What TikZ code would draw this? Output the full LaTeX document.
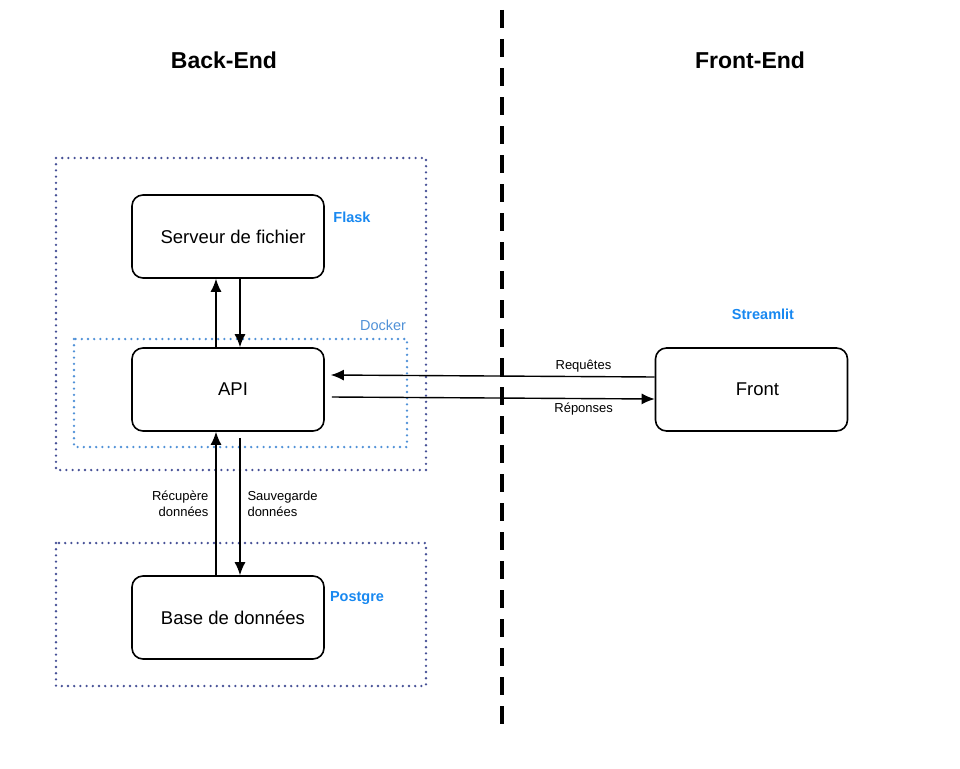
\documentclass[tikz,border=0pt]{standalone}
\usepackage{fontspec}
\setmainfont{Liberation Sans}
\usetikzlibrary{arrows.meta}

\definecolor{flaskblue}{RGB}{24,136,240}
\definecolor{dockblue}{RGB}{80,145,215}
\definecolor{navydot}{RGB}{70,80,150}

\begin{document}
\begin{tikzpicture}[x=1pt,y=-1pt,
    box/.style={draw, line width=1.6pt, rounded corners=11pt, minimum width=192pt, minimum height=83pt, font=\fontsize{18.5}{22}\selectfont},
    outerdots/.style={navydot, line width=2.6pt, line cap=round, dash pattern=on 0pt off 6.2pt},
    dockdots/.style={dockblue, line width=2.6pt, line cap=round, dash pattern=on 0pt off 6.2pt},
    arr/.style={line width=1.4pt, -{Latex[length=13pt,width=11pt]}},
    tag/.style={flaskblue, font=\bfseries\fontsize{14.5}{17}\selectfont},
    small/.style={font=\fontsize{13}{15.5}\selectfont}]
    \useasboundingbox (0,0) rectangle (960,768);
    % containers
    \draw [outerdots] (56,158) rectangle (426,470);
    \draw [dockdots] (74,339) rectangle (407,447);
    \draw [outerdots] (56,543) rectangle (426,686);
    % separation back / front
    \draw [line width=3.8pt, dash pattern=on 18pt off 11pt] (502,10) -- (502,724);
    \node (back) at (224,60) {\bfseries\fontsize{23}{27}\selectfont Back-End};
    \node (frontend) at (750,60) {\bfseries\fontsize{23}{27}\selectfont Front-End};
    % boxes
    \node [box] (serveur) at (228,236.5) {\hspace{10pt}Serveur de fichier};
    \node [box] (api) at (228,389.5) {\hspace{10pt}API};
    \node [box] (base) at (228,617.5) {\hspace{10pt}Base de données};
    \node [box] (front) at (751.5,389.5) {\hspace{12pt}Front};
    % tags
    \node [tag] (flask) at (352,217) {Flask};
    \node [tag] (streamlit) at (763,314) {Streamlit};
    \node [tag] (postgre) at (357,598) {Postgre};
    \node [dockblue, font=\fontsize{14.5}{17}\selectfont] (docker) at (383,325) {Docker};
    % links
    \draw [arr] ([xshift=-12pt]api.north) -- ([xshift=-12pt]serveur.south);
    \draw [arr] ([xshift=12pt]serveur.south) -- ([xshift=12pt]api.north);
    \draw [arr] ([xshift=-12pt]base.north) -- ([xshift=-12pt]api.south);
    \draw [arr] ([xshift=12pt,yshift=-6pt]api.south) -- ([xshift=12pt]base.north);
    \draw [arr] ([yshift=12.5pt]front.west) -- ([xshift=6pt,yshift=14.5pt]api.east)
        node [small, pos=0.22, above] {Requêtes};
    \draw [arr] ([xshift=7pt,yshift=-7.5pt]api.east) -- ([yshift=-9.5pt]front.west)
        node [small, pos=0.78, below] {Réponses};
    \node [small, align=right, anchor=east] (recup) at (212,504) {Récupère\\données};
    \node [small, align=left, anchor=west] (sauv) at (244,504) {Sauvegarde\\données};
\end{tikzpicture}
\end{document}
